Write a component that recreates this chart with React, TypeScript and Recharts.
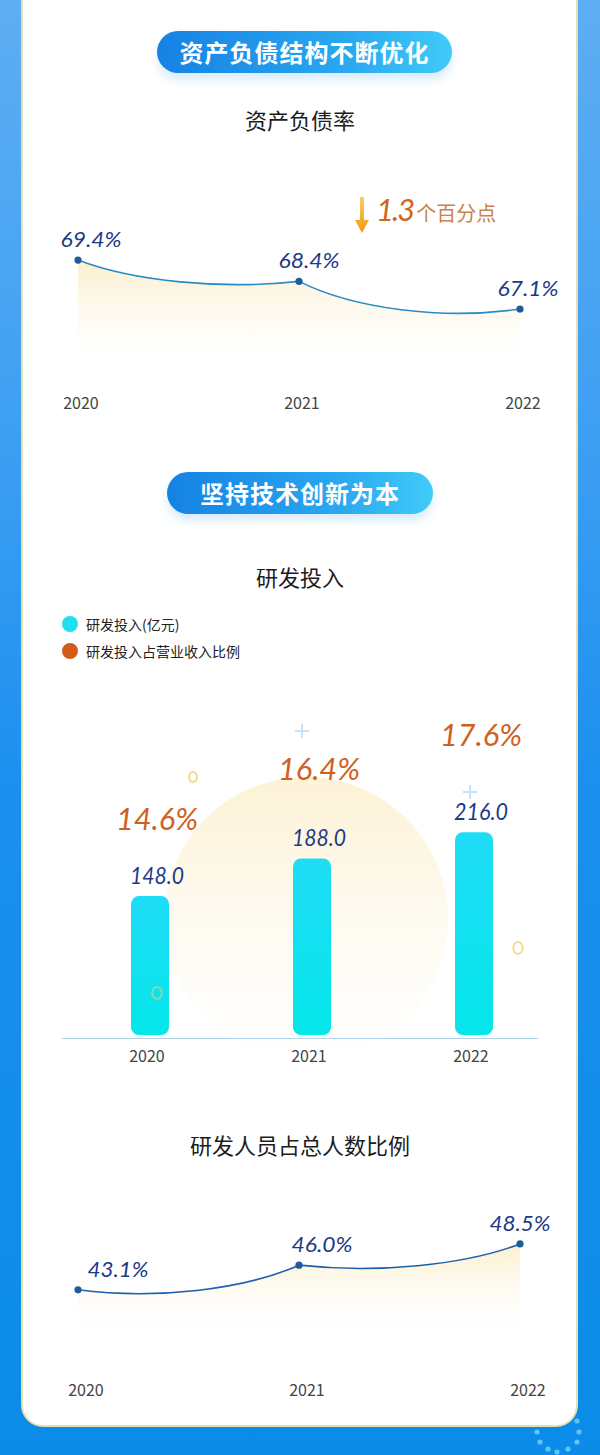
import React from 'react';
import {
  AreaChart,
  Area,
  XAxis,
  YAxis,
  ComposedChart,
  Bar,
  Line,
  LabelList,
  Legend,
} from 'recharts';

// ---------- data ----------
const years = ['2020', '2021', '2022'];
const debtRatio = [69.4, 68.4, 67.1];
const rdInvest = [148.0, 188.0, 216.0];
const rdRevenueShare = [14.6, 16.4, 17.6];
const rdStaffShare = [43.1, 46.0, 48.5];

const debtData = years.map((y, i) => ({ year: y, v: debtRatio[i] }));
const rdData = years.map((y, i) => ({ year: y, invest: rdInvest[i], share: rdRevenueShare[i] }));
const staffData = years.map((y, i) => ({ year: y, v: rdStaffShare[i] }));

// ---------- styles ----------
const CJK = '"Noto Sans CJK SC", "Noto Sans", sans-serif';
const NUM = 'Lato, "Open Sans", sans-serif';
const topLabelDx = [13, 10, 8];
const staffLabelDx = [40, 23, 0];

// custom curve: each segment is a bezier (ease-out / ease-in)
const makeCurve = (mode: 'out' | 'in') => (context: any) => {
  let pts: [number, number][] = [];
  let line: number = NaN;
  return {
    areaStart() {
      line = 0;
    },
    areaEnd() {
      line = NaN;
    },
    lineStart() {
      pts = [];
    },
    lineEnd() {
      if (pts.length) {
        const [x0, y0] = pts[0];
        if (line) context.lineTo(x0, y0);
        else context.moveTo(x0, y0);
        for (let i = 1; i < pts.length; i++) {
          const [ax, ay] = pts[i - 1];
          const [bx, by] = pts[i];
          const dx = bx - ax;
          const dy = by - ay;
          if (Math.abs(dy) < 1e-6) {
            context.lineTo(bx, by);
            continue;
          }
          if (mode === 'out') {
            context.bezierCurveTo(ax + 0.25 * dx, by, bx - 0.35 * dx, by + 0.4 * dy, bx, by);
          } else {
            context.bezierCurveTo(ax + 0.35 * dx, ay - 0.4 * dy, bx - 0.25 * dx, ay, bx, by);
          }
        }
      }
      if (line || (line !== 0 && pts.length === 1)) context.closePath();
      line = 1 - line;
    },
    point(x: number, y: number) {
      pts.push([+x, +y]);
    },
  };
};
const curveOut = makeCurve('out');
const curveIn = makeCurve('in');

const Pill = ({ text, left, top, width }: { text: string; left: number; top: number; width: number }) => (
  <div
    style={{
      position: 'absolute',
      left,
      top,
      width,
      height: 42,
      borderRadius: 21,
      background: 'linear-gradient(90deg, #1582e4 0%, #2aa8f0 65%, #40cbf8 100%)',
      boxShadow: '0 7px 9px rgba(90,170,235,0.22)',
      color: '#fff',
      fontFamily: CJK,
      fontWeight: 700,
      fontSize: 24,
      lineHeight: '42px',
      textAlign: 'center',
      letterSpacing: 1,
    }}
  >
    {text}
  </div>
);

const Subtitle = ({ text, top }: { text: string; top: number }) => (
  <div
    style={{
      position: 'absolute',
      left: 0,
      width: 600,
      top,
      textAlign: 'center',
      fontFamily: CJK,
      fontSize: 22,
      lineHeight: '30px',
      color: '#1c1c1c',
    }}
  >
    {text}
  </div>
);

const pctLabel = (dxArr: number[]) => (props: any) => {
  const { x, y, value, index } = props;
  return (
    <text
      x={x + dxArr[index]}
      y={y - 13}
      textAnchor="middle"
      fontFamily={NUM}
      fontStyle="italic"
      fontSize={22}
      fill="#1d3a86"
      textLength={61}
      lengthAdjust="spacingAndGlyphs"
    >
      {`${Number(value).toFixed(1)}%`}
    </text>
  );
};

const barValueLabel = (props: any) => {
  const { x, y, width, value } = props;
  return (
    <text
      x={x + width / 2 + 7}
      y={y - 12}
      textAnchor="middle"
      fontFamily={NUM}
      fontStyle="italic"
      fontSize={23}
      fill="#1d3a86"
      textLength={54}
      lengthAdjust="spacingAndGlyphs"
    >
      {Number(value).toFixed(1)}
    </text>
  );
};

const shareLabel = (props: any) => {
  const { x, y, value } = props;
  return (
    <text
      x={x + 7}
      y={y + 10}
      textAnchor="middle"
      fontFamily={NUM}
      fontStyle="italic"
      fontSize={30}
      fill="#d0601e"
      textLength={82}
      lengthAdjust="spacingAndGlyphs"
    >
      {`${Number(value).toFixed(1)}%`}
    </text>
  );
};

const legendItems = [
  { label: '研发投入(亿元)', color: '#1ee0f2' },
  { label: '研发投入占营业收入比例', color: '#d45a18' },
];

const LegendContent = () => (
  <div style={{ fontFamily: CJK, fontSize: 14, color: '#222' }}>
    {legendItems.map((it) => (
      <div key={it.label} style={{ display: 'flex', alignItems: 'center', height: 27 }}>
        <span
          style={{
            width: 16,
            height: 16,
            borderRadius: 8,
            background: it.color,
            display: 'inline-block',
            marginRight: 8,
          }}
        />
        <span>{it.label}</span>
      </div>
    ))}
  </div>
);

const Plus = ({ x, y }: { x: number; y: number }) => (
  <svg style={{ position: 'absolute', left: x - 8, top: y - 8 }} width={16} height={16}>
    <path d="M8 1 V15 M1 8 H15" stroke="#c6e2f6" strokeWidth={2} />
  </svg>
);
const Ring = ({ x, y, r, color }: { x: number; y: number; r: number; color: string }) => (
  <svg style={{ position: 'absolute', left: x - r - 2, top: y - r - 2 }} width={2 * r + 4} height={2 * r + 4}>
    <ellipse cx={r + 2} cy={r + 2} rx={r * 0.8} ry={r} fill="none" stroke={color} strokeWidth={2} />
  </svg>
);

const cornerDots = [
  [537, 1432],
  [540, 1442],
  [548, 1449],
  [557, 1452],
  [568, 1449],
  [577, 1442],
  [579, 1432],
  [577, 1421],
];

const tickStyle = { fontSize: 16, fill: '#444', fontFamily: CJK };

export default function App() {
  return (
    <div
      style={{
        position: 'absolute',
        left: 0,
        top: 0,
        width: 600,
        height: 1455,
        overflow: 'hidden',
        background: 'linear-gradient(180deg, #5eaef2 0%, #3e9ff2 30%, #1a8fef 55%, #0b8ce8 100%)',
      }}
    >
      {/* card */}
      <div
        style={{
          position: 'absolute',
          left: 21,
          top: -40,
          width: 553,
          height: 1463,
          background: '#fff',
          border: '2px solid #e6dfb4',
          borderRadius: 22,
        }}
      />
      {/* corner dots */}
      <svg style={{ position: 'absolute', left: 0, top: 0 }} width={600} height={1455} pointerEvents="none">
        {cornerDots.map(([cx, cy], i) => (
          <circle key={i} cx={cx} cy={cy} r={2.6} fill="#5cc6f6" />
        ))}
      </svg>

      {/* ===== Section 1 ===== */}
      <Pill text="资产负债结构不断优化" left={157} top={31} width={295} />
      <Subtitle text="资产负债率" top={104} />

      {/* annotation */}
      <svg style={{ position: 'absolute', left: 352, top: 194 }} width={20} height={42}>
        <defs>
          <linearGradient id="arrowG" x1="0" y1="0" x2="0" y2="1">
            <stop offset="0%" stopColor="#f7cf62" />
            <stop offset="100%" stopColor="#f09a12" />
          </linearGradient>
        </defs>
        <polygon points="8,3 12,3 12,26 17,26 10,39 3,26 8,26" fill="url(#arrowG)" />
      </svg>
      <div
        style={{
          position: 'absolute',
          left: 376,
          top: 190,
          height: 40,
          display: 'flex',
          alignItems: 'baseline',
          whiteSpace: 'nowrap',
        }}
      >
        <span style={{ fontFamily: NUM, fontStyle: 'italic', fontWeight: 400, fontSize: 31, color: '#d4661c', letterSpacing: -2 }}>
          1.3
        </span>
        <span style={{ fontFamily: CJK, fontSize: 20, color: '#c98248', marginLeft: 3 }}>个百分点</span>
      </div>

      <div style={{ position: 'absolute', left: 0, top: 180 }}>
        <AreaChart width={600} height={245} data={debtData} margin={{ top: 46, right: 80, bottom: 0, left: 78 }}>
          <defs>
            <linearGradient id="areaTop" x1="0" y1="0" x2="0" y2="1">
              <stop offset="0%" stopColor="#fcedc8" stopOpacity={0.9} />
              <stop offset="100%" stopColor="#ffffff" stopOpacity={0} />
            </linearGradient>
          </defs>
          <XAxis
            dataKey="year"
            scale="point"
            padding={{ left: 0, right: 0 }}
            axisLine={false}
            tickLine={false}
            tickSize={0}
            tickMargin={23}
            height={50}
            interval={0}
            tick={{ ...tickStyle, dx: 3 }}
          />
          <YAxis hide domain={[64, 71]} />
          <Area
            dataKey="v"
            type={curveOut as any}
            stroke="#2a8cc4"
            strokeWidth={1.6}
            fill="url(#areaTop)"
            fillOpacity={1}
            dot={{ r: 3.6, fill: '#1b5c9c', stroke: '#1b5c9c', strokeWidth: 0 }}
            activeDot={false}
            isAnimationActive={false}
          >
            <LabelList dataKey="v" content={pctLabel(topLabelDx)} />
          </Area>
        </AreaChart>
      </div>

      {/* ===== Section 2 ===== */}
      <Pill text="坚持技术创新为本" left={167} top={472} width={266} />
      <Subtitle text="研发投入" top={561} />

      {/* decorative sun */}
      <div
        style={{
          position: 'absolute',
          left: 164,
          top: 777,
          width: 284,
          height: 284,
          borderRadius: 142,
          background: 'linear-gradient(180deg, rgba(252,238,200,0.75) 0%, rgba(253,246,228,0.45) 55%, rgba(255,255,255,0) 100%)',
        }}
      />
      <Plus x={302} y={731} />
      <Plus x={470} y={792} />
      <Ring x={193} y={777} r={5} color="#f4d88c" />
      <Ring x={518} y={948} r={6} color="#f4dc92" />

      <div style={{ position: 'absolute', left: 0, top: 600 }}>
        <ComposedChart width={600} height={475} data={rdData} margin={{ top: 97, right: 45, bottom: 0, left: 69 }}>
          <defs>
            <linearGradient id="barG" x1="0" y1="0" x2="0" y2="1">
              <stop offset="0%" stopColor="#1fdcf6" />
              <stop offset="100%" stopColor="#04e6ea" />
            </linearGradient>
          </defs>
          <Legend
            layout="vertical"
            align="center"
            verticalAlign="middle"
            content={<LegendContent />}
            wrapperStyle={{ left: 62, top: 10, width: 'auto', height: 'auto' }}
          />
          <XAxis
            dataKey="year"
            axisLine={false}
            tickLine={false}
            tickSize={0}
            tickMargin={16}
            height={40}
            interval={0}
            tick={{ ...tickStyle, dx: -3 }}
          />
          <YAxis yAxisId="left" hide domain={[0, 360]} />
          <YAxis yAxisId="right" hide orientation="right" domain={[6.9, 19.0]} />
          <Bar
            yAxisId="left"
            dataKey="invest"
            name="研发投入(亿元)"
            barSize={38}
            radius={[8, 8, 8, 8]}
            fill="url(#barG)"
            isAnimationActive={false}
          >
            <LabelList dataKey="invest" content={barValueLabel} />
          </Bar>
          <Line
            yAxisId="right"
            dataKey="share"
            name="研发投入占营业收入比例"
            stroke="none"
            dot={false}
            activeDot={false}
            isAnimationActive={false}
          >
            <LabelList dataKey="share" content={shareLabel} />
          </Line>
        </ComposedChart>
      </div>
      {/* baseline */}
      <div style={{ position: 'absolute', left: 62, top: 1038, width: 476, height: 1, background: '#a9d4ea' }} />
      <div style={{ position: 'absolute', left: 0, top: 0, opacity: 0.55 }}>
        <Ring x={157} y={993} r={6} color="#e8d27a" />
      </div>

      {/* ===== Section 3 ===== */}
      <Subtitle text="研发人员占总人数比例" top={1129} />
      <div style={{ position: 'absolute', left: 0, top: 1180 }}>
        <AreaChart width={600} height={220} data={staffData} margin={{ top: 20, right: 80, bottom: 0, left: 78 }}>
          <defs>
            <linearGradient id="areaBottom" x1="0" y1="0" x2="0" y2="1">
              <stop offset="0%" stopColor="#fcedc8" stopOpacity={0.9} />
              <stop offset="100%" stopColor="#ffffff" stopOpacity={0} />
            </linearGradient>
          </defs>
          <XAxis
            dataKey="year"
            scale="point"
            padding={{ left: 0, right: 0 }}
            axisLine={false}
            tickLine={false}
            tickSize={0}
            tickMargin={45}
            height={60}
            interval={0}
            tick={{ ...tickStyle, dx: 8 }}
          />
          <YAxis hide domain={[37.2, 53.66]} />
          <Area
            dataKey="v"
            type={curveIn as any}
            stroke="#1d5fae"
            strokeWidth={1.6}
            fill="url(#areaBottom)"
            fillOpacity={1}
            dot={{ r: 3.6, fill: '#1b5c9c', stroke: '#1b5c9c', strokeWidth: 0 }}
            activeDot={false}
            isAnimationActive={false}
          >
            <LabelList dataKey="v" content={pctLabel(staffLabelDx)} />
          </Area>
        </AreaChart>
      </div>
    </div>
  );
}
